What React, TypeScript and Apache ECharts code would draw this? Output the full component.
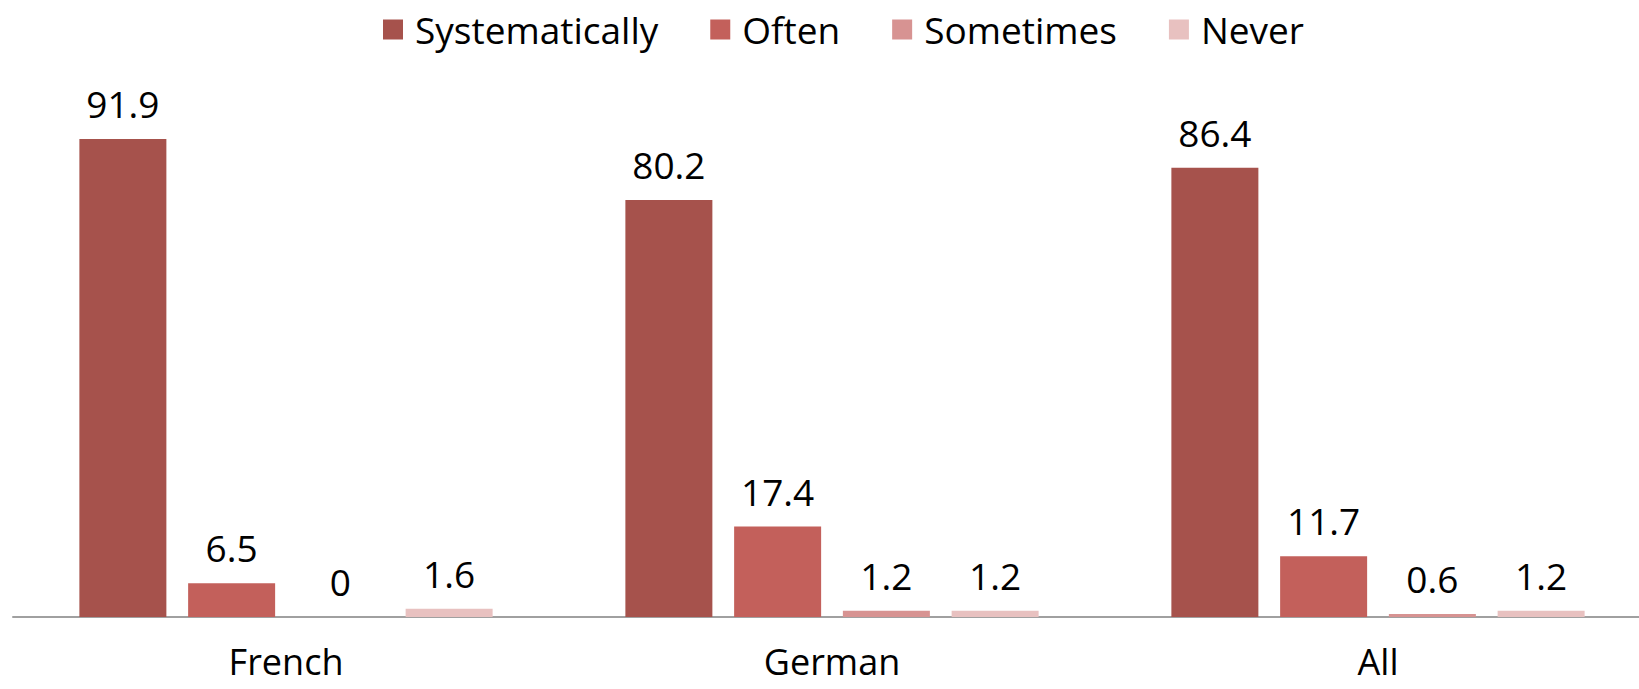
import React, { useEffect, useRef } from "react";
import * as echarts from "echarts";

const categories = ["French", "German", "All"];
const seriesNames = ["Systematically", "Often", "Sometimes", "Never"];
const systematically = [91.9, 80.2, 86.4];
const often = [6.5, 17.4, 11.7];
const sometimes = [0, 1.2, 0.6];
const never = [1.6, 1.2, 1.2];
const colors = ["#A6524C", "#C3605B", "#D79392", "#E8C1C0"];

const FONT = "Open Sans";

export default function App() {
  const ref = useRef<HTMLDivElement>(null);
  useEffect(() => {
    if (!ref.current) return;
    const chart = echarts.init(ref.current, undefined, { renderer: "svg" });
    const data = [systematically, often, sometimes, never];
    chart.setOption({
      animation: false,
      backgroundColor: "#ffffff",
      legend: {
        top: 6,
        left: 378,
        itemWidth: 20,
        itemHeight: 20,
        itemGap: 52,
        icon: "rect",
        textStyle: {
          fontFamily: FONT,
          fontSize: 37,
          color: "#000",
          padding: [0, 0, 0, 7],
        },
        data: seriesNames,
      },
      grid: {
        left: 13,
        width: 1638,
        top: 97,
        bottom: 72,
        containLabel: false,
        outerBoundsMode: "none",
      },
      xAxis: {
        type: "category",
        data: categories,
        axisLine: { lineStyle: { color: "#A0A0A0", width: 2 } },
        axisTick: { show: false },
        axisLabel: {
          fontFamily: FONT,
          fontSize: 36,
          lineHeight: 36,
          color: "#000",
          margin: 26,
        },
      },
      yAxis: {
        type: "value",
        min: 0,
        max: 100,
        show: false,
        splitLine: { show: false },
      },
      series: seriesNames.map((name, i) => ({
        name,
        type: "bar",
        data: data[i],
        barWidth: 87,
        barGap: "25%",
        itemStyle: { color: colors[i] },
        label: {
          show: true,
          position: "top",
          distance: 17,
          fontFamily: FONT,
          fontSize: 37,
          color: "#000",
        },
      })),
    });
    return () => chart.dispose();
  }, []);
  return (
    <div
      ref={ref}
      style={{ position: "absolute", left: 0, top: 0, width: 1639, height: 689 }}
    />
  );
}
